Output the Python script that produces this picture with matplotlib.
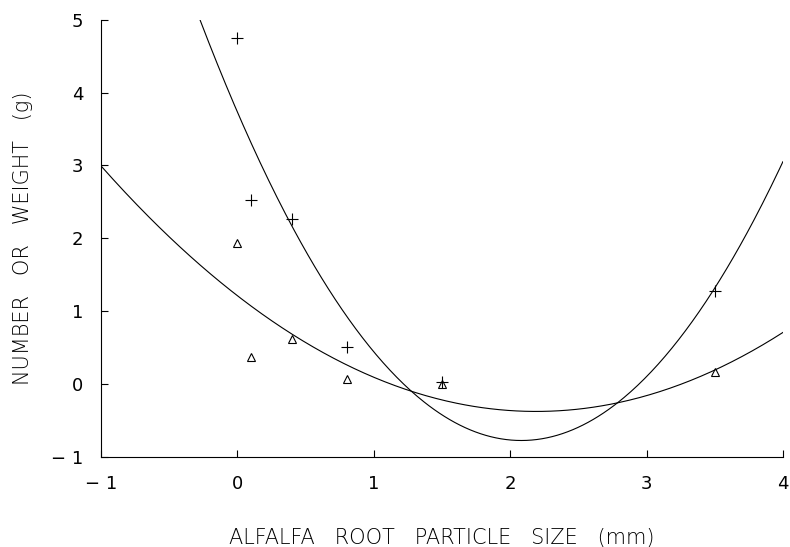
import numpy as np
import matplotlib
matplotlib.use('Agg')
import matplotlib.pyplot as plt

# measured points
size_mm = [0.0, 0.1, 0.4, 0.8, 1.5, 3.5]
number = [4.75, 2.52, 2.27, 0.51, 0.02, 1.27]
weight = [1.93, 0.37, 0.61, 0.07, 0.0, 0.17]

# quadratic fits (a, b, c)
number_fit = [1.04, -4.33, 3.73]
weight_fit = [0.331, -1.45, 1.21]

plt.rcParams['font.family'] = 'DejaVu Sans'

fig = plt.figure(figsize=(7.9, 5.47), dpi=100)
ax = fig.add_axes([0.128, 0.165, 0.863, 0.799])

xs = np.linspace(-1, 4, 400)
ax.plot(xs, np.polyval(number_fit, xs), 'k-', linewidth=0.8)
ax.plot(xs, np.polyval(weight_fit, xs), 'k-', linewidth=0.8)
ax.plot(size_mm, number, 'k+', markersize=8, markeredgewidth=0.8)
ax.plot(size_mm, weight, '^', markersize=6, markerfacecolor='none',
        markeredgecolor='k', markeredgewidth=0.8)

ax.set_xlim(-1, 4)
ax.set_ylim(-1, 5)
ax.set_xticks(range(-1, 5))
ax.set_yticks(range(-1, 6))
ax.set_xticklabels(['\u2212 1', '0', '1', '2', '3', '4'])
ax.set_yticklabels(['\u2212 1', '0', '1', '2', '3', '4', '5'])

for side in ['top', 'right']:
    ax.spines[side].set_visible(False)
for side in ['left', 'bottom']:
    ax.spines[side].set_linewidth(0.8)
ax.tick_params(direction='in', length=5, width=0.8, labelsize=13, pad=13)

ax.set_xlabel('ALFALFA   ROOT   PARTICLE   SIZE   (mm)', fontsize=15,
              fontweight='light', labelpad=25)
ax.set_ylabel('NUMBER   OR   WEIGHT   (g)', fontsize=15,
              fontweight='light', labelpad=13)

fig.savefig('out.png', dpi=100)
